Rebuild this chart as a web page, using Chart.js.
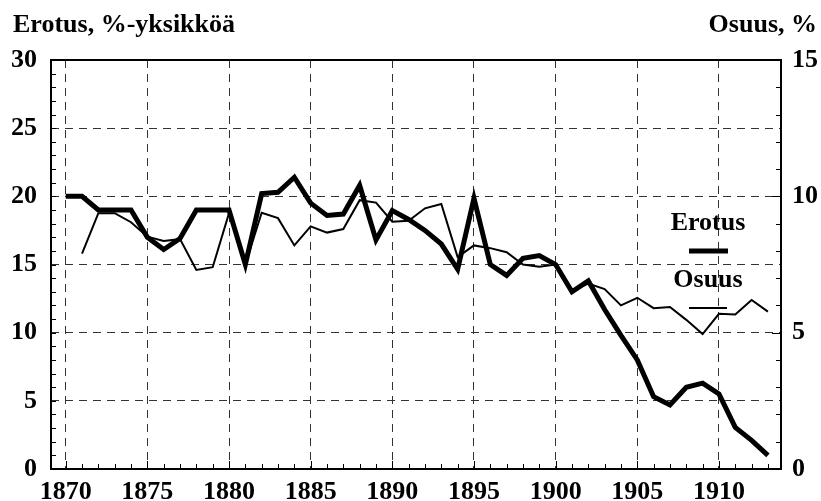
<!DOCTYPE html>
<html>
<head>
<meta charset="utf-8">
<script src="https://cdn.jsdelivr.net/npm/chart.js@4"></script>
<style>
  html, body { margin: 0; padding: 0; background: #fff; }
  canvas { display: block; }
</style>
</head>
<body>
<canvas id="kaavio" width="821" height="501"></canvas>
<script>
// Vuodet ja sarjat (luettu kuvasta)
const vuodet = [1870, 1871, 1872, 1873, 1874, 1875, 1876, 1877, 1878, 1879,
                1880, 1881, 1882, 1883, 1884, 1885, 1886, 1887, 1888, 1889,
                1890, 1891, 1892, 1893, 1894, 1895, 1896, 1897, 1898, 1899,
                1900, 1901, 1902, 1903, 1904, 1905, 1906, 1907, 1908, 1909,
                1910, 1911, 1912, 1913];
// Erotus, %-yksikköä (vasen akseli)
const erotus = [20, 20, 19, 19, 19, 17, 16.1, 16.9, 19, 19,
                19, 15, 20.2, 20.3, 21.4, 19.5, 18.6, 18.7, 20.8, 16.8,
                18.95, 18.3, 17.5, 16.5, 14.65, 19.85, 15.0, 14.2, 15.45, 15.65,
                15.0, 13.0, 13.8, 11.7, 9.8, 8.0, 5.3, 4.7, 6.0, 6.3,
                5.5, 3.05, 2.1, 1.0];
// Osuus, % (oikea akseli)
const osuus = [null, 7.9, 9.38, 9.38, 9.05, 8.52, 8.36, 8.43, 7.3, 7.4,
               9.38, 7.5, 9.4, 9.2, 8.2, 8.9, 8.67, 8.8, 9.86, 9.77,
               9.07, 9.1, 9.56, 9.72, 7.77, 8.2, 8.1, 7.95, 7.5, 7.42,
               7.5, 6.55, 6.8, 6.6, 6.0, 6.28, 5.9, 5.94, 5.47, 4.95,
               5.69, 5.67, 6.2, 5.77];
const xTikit = [1870, 1875, 1880, 1885, 1890, 1895, 1900, 1905, 1910];

const fontti = { family: '"Liberation Serif", "Times New Roman", serif', size: 26, weight: 'bold' };
const fonttiCss = 'bold 26px "Liberation Serif", "Times New Roman", serif';
const viiva = [8, 6];

// Kehys, pienet jakoviivat, otsikot ja selite
const kehys = {
    id: 'kehys',
    afterDraw(chart) {
        const { ctx, chartArea: a, scales: { x, y, y1 } } = chart;
        ctx.save();
        ctx.strokeStyle = '#000';
        ctx.lineWidth = 1;
        ctx.beginPath();
        for (let v = vuodet[0]; v <= vuodet[vuodet.length - 1]; v++) {
            const px = Math.round(x.getPixelForValue(v)) + 0.5;
            const len = v % 5 ? 5 : 8;
            ctx.moveTo(px, a.bottom);
            ctx.lineTo(px, a.bottom - len);
        }
        for (let v = 1; v < 30; v++) {
            const py = Math.round(y.getPixelForValue(v)) + 0.5;
            ctx.moveTo(a.left, py);
            ctx.lineTo(a.left + 5, py);
        }
        for (let v = 1; v < 15; v++) {
            const py = Math.round(y1.getPixelForValue(v)) + 0.5;
            const len = v % 5 ? 5 : 9;
            ctx.moveTo(a.right, py);
            ctx.lineTo(a.right - len, py);
        }
        ctx.stroke();

        ctx.lineWidth = 2;
        ctx.strokeRect(a.left, a.top, a.right - a.left, a.bottom - a.top);

        // akselien otsikot
        ctx.fillStyle = '#000';
        ctx.font = fonttiCss;
        ctx.textBaseline = 'alphabetic';
        ctx.textAlign = 'left';
        ctx.fillText('Erotus, %-yksikköä', 13, 32);
        ctx.textAlign = 'right';
        ctx.fillText('Osuus, %', 817, 32);

        // selite
        ctx.textAlign = 'center';
        ctx.fillText('Erotus', 708, 230);
        ctx.fillText('Osuus', 708, 287);
        ctx.lineCap = 'butt';
        ctx.lineWidth = 5;
        ctx.beginPath();
        ctx.moveTo(689, 251);
        ctx.lineTo(728, 251);
        ctx.stroke();
        ctx.lineWidth = 2;
        ctx.beginPath();
        ctx.moveTo(689, 308);
        ctx.lineTo(727, 308);
        ctx.stroke();
        ctx.restore();
    }
};

document.addEventListener('DOMContentLoaded', () => {
    const ctx = document.getElementById('kaavio');

    new Chart(ctx, {
        type: 'line',
        data: {
            datasets: [{
                label: 'Erotus',
                data: vuodet.map((v, i) => ({ x: v, y: erotus[i] })),
                yAxisID: 'y',
                borderColor: '#000',
                borderWidth: 5,
                pointRadius: 0,
                tension: 0
            }, {
                label: 'Osuus',
                data: vuodet.map((v, i) => ({ x: v, y: osuus[i] })),
                yAxisID: 'y1',
                borderColor: '#000',
                borderWidth: 2,
                pointRadius: 0,
                tension: 0
            }]
        },
        options: {
            responsive: false,
            animation: false,
            layout: { padding: { top: 60, left: 0, right: 0, bottom: 0 } },
            plugins: {
                legend: { display: false },
                tooltip: { enabled: false }
            },
            scales: {
                x: {
                    type: 'linear',
                    min: 1869.1,
                    max: 1913.8,
                    afterBuildTicks: s => { s.ticks = xTikit.map(v => ({ value: v })); },
                    afterFit: s => { s.height = 32; },
                    grid: { color: '#333', lineWidth: 1, drawTicks: false, borderDash: viiva },
                    border: { display: false, dash: viiva },
                    ticks: {
                        color: '#000', font: fontti, padding: 8,
                        maxRotation: 0, autoSkip: false,
                        callback: v => String(v)
                    }
                },
                y: {
                    position: 'left',
                    min: 0,
                    max: 30,
                    afterFit: s => { s.width = 51; },
                    grid: { color: '#333', lineWidth: 1, drawTicks: false, borderDash: viiva },
                    border: { display: false, dash: viiva },
                    ticks: { stepSize: 5, color: '#000', font: fontti, padding: 14 }
                },
                y1: {
                    position: 'right',
                    min: 0,
                    max: 15,
                    afterFit: s => { s.width = 40; },
                    grid: { drawOnChartArea: false, drawTicks: false },
                    border: { display: false },
                    ticks: { stepSize: 5, color: '#000', font: fontti, padding: 11 }
                }
            }
        },
        plugins: [kehys]
    });
});
</script>
</body>
</html>
